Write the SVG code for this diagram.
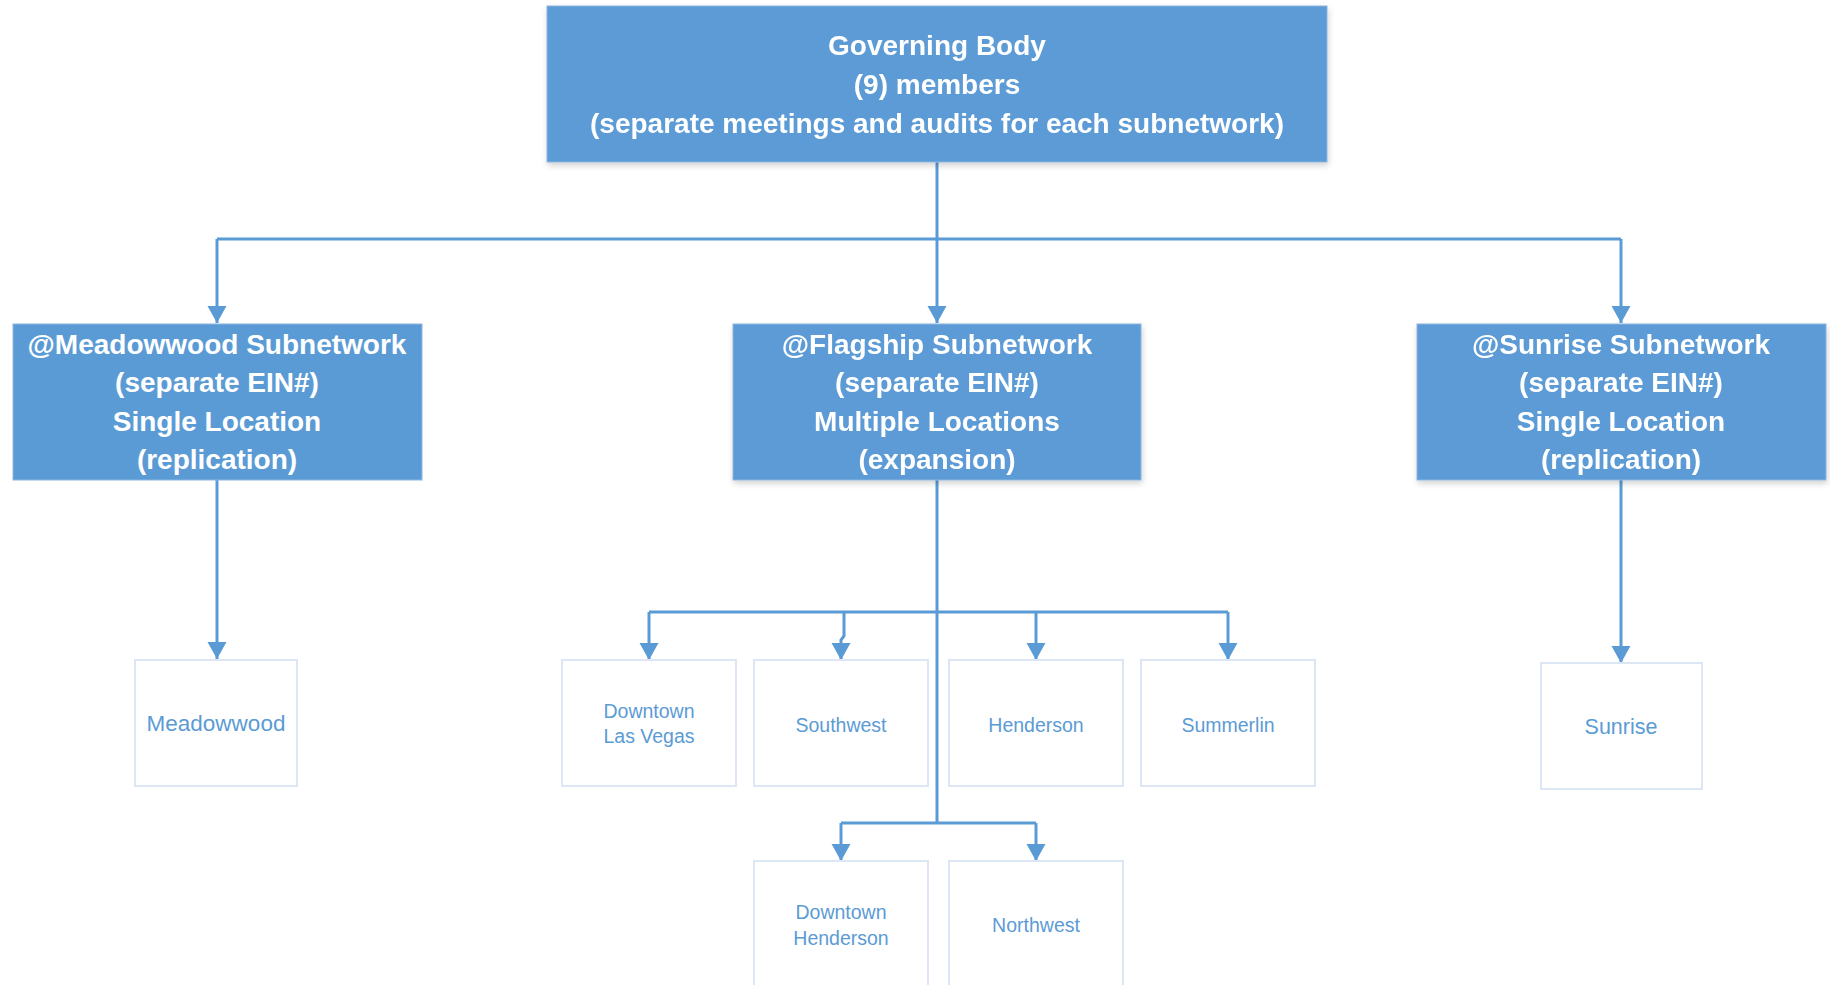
<svg xmlns="http://www.w3.org/2000/svg" width="1830" height="985" viewBox="0 0 1830 985">
<style>
.bb{fill:#5B9BD5;stroke:#8DB5E0;stroke-width:1}
.lb{fill:#FFFFFF;stroke:#DDE6F4;stroke-width:2}
.bt{font-family:"Liberation Sans",Arial,sans-serif;font-weight:bold;font-size:28px;fill:#FFFFFF;text-anchor:middle}
.lt{font-family:"Liberation Sans",Arial,sans-serif;font-size:19.5px;fill:#5B9BD5;text-anchor:middle}
.lt2{font-family:"Liberation Sans",Arial,sans-serif;font-size:21.5px;fill:#5B9BD5;text-anchor:middle}
.cn{fill:none;stroke:#5B9BD5;stroke-width:3}
</style>
<defs>
<marker id="ah" markerUnits="userSpaceOnUse" markerWidth="20" markerHeight="20" refX="17" refY="9.5" orient="auto">
<path d="M0,0 L17,9.5 L0,19 z" fill="#5B9BD5"/>
</marker>
<filter id="sh" x="-5%" y="-10%" width="110%" height="130%">
<feGaussianBlur in="SourceAlpha" stdDeviation="3"/>
<feOffset dx="1" dy="3" result="b"/>
<feComponentTransfer><feFuncA type="linear" slope="0.18"/></feComponentTransfer>
<feMerge><feMergeNode/><feMergeNode in="SourceGraphic"/></feMerge>
</filter>
</defs>
<rect width="1830" height="985" fill="#FFFFFF"/>
<g id="connectors">
<path class="cn" d="M937,162 V239"/>
<path class="cn" d="M217,239 H1621"/>
<path class="cn" d="M217,239 V323" marker-end="url(#ah)"/>
<path class="cn" d="M937,239 V323" marker-end="url(#ah)"/>
<path class="cn" d="M1621,239 V323" marker-end="url(#ah)"/>
<path class="cn" d="M217,480 V659" marker-end="url(#ah)"/>
<path class="cn" d="M1621,480 V663" marker-end="url(#ah)"/>
<path class="cn" d="M937,480 V823"/>
<path class="cn" d="M649,612 H1228"/>
<path class="cn" d="M649,612 V660" marker-end="url(#ah)"/>
<path class="cn" d="M844,612 V636 L841,640 V660" marker-end="url(#ah)"/>
<path class="cn" d="M1036,612 V660" marker-end="url(#ah)"/>
<path class="cn" d="M1228,612 V660" marker-end="url(#ah)"/>
<path class="cn" d="M841,823 H1036"/>
<path class="cn" d="M841,823 V861" marker-end="url(#ah)"/>
<path class="cn" d="M1036,823 V861" marker-end="url(#ah)"/>
</g>
<g id="governing-body" filter="url(#sh)">
<rect class="bb" x="547" y="6" width="780" height="156"/>
<text class="bt" x="937" y="55">Governing Body</text>
<text class="bt" x="937" y="94">(9) members</text>
<text class="bt" x="937" y="133">(separate meetings and audits for each subnetwork)</text>
</g>
<g id="meadowwood-subnetwork">
<rect class="bb" x="13" y="324" width="409" height="156"/>
<text class="bt" x="217" y="354">@Meadowwood Subnetwork</text>
<text class="bt" x="217" y="392">(separate EIN#)</text>
<text class="bt" x="217" y="431">Single Location</text>
<text class="bt" x="217" y="469">(replication)</text>
</g>
<g id="flagship-subnetwork" filter="url(#sh)">
<rect class="bb" x="733" y="324" width="408" height="156"/>
<text class="bt" x="937" y="354">@Flagship Subnetwork</text>
<text class="bt" x="937" y="392">(separate EIN#)</text>
<text class="bt" x="937" y="431">Multiple Locations</text>
<text class="bt" x="937" y="469">(expansion)</text>
</g>
<g id="sunrise-subnetwork" filter="url(#sh)">
<rect class="bb" x="1417" y="324" width="409" height="156"/>
<text class="bt" x="1621" y="354">@Sunrise Subnetwork</text>
<text class="bt" x="1621" y="392">(separate EIN#)</text>
<text class="bt" x="1621" y="431">Single Location</text>
<text class="bt" x="1621" y="469">(replication)</text>
</g>
<g id="meadowwood">
<rect class="lb" x="135" y="660" width="162" height="126"/>
<text class="lt2" x="216" y="731" style="font-size:22.5px">Meadowwood</text>
</g>
<g id="downtown-las-vegas">
<rect class="lb" x="562" y="660" width="174" height="126"/>
<text class="lt" x="649" y="718">Downtown</text>
<text class="lt" x="649" y="743">Las Vegas</text>
</g>
<g id="southwest">
<rect class="lb" x="754" y="660" width="174" height="126"/>
<text class="lt" x="841" y="732">Southwest</text>
</g>
<g id="henderson">
<rect class="lb" x="949" y="660" width="174" height="126"/>
<text class="lt" x="1036" y="732">Henderson</text>
</g>
<g id="summerlin">
<rect class="lb" x="1141" y="660" width="174" height="126"/>
<text class="lt" x="1228" y="732">Summerlin</text>
</g>
<g id="downtown-henderson">
<rect class="lb" x="754" y="861" width="174" height="140"/>
<text class="lt" x="841" y="919">Downtown</text>
<text class="lt" x="841" y="945">Henderson</text>
</g>
<g id="northwest">
<rect class="lb" x="949" y="861" width="174" height="140"/>
<text class="lt" x="1036" y="932">Northwest</text>
</g>
<g id="sunrise">
<rect class="lb" x="1541" y="663" width="161" height="126"/>
<text class="lt2" x="1621" y="734">Sunrise</text>
</g>
</svg>
